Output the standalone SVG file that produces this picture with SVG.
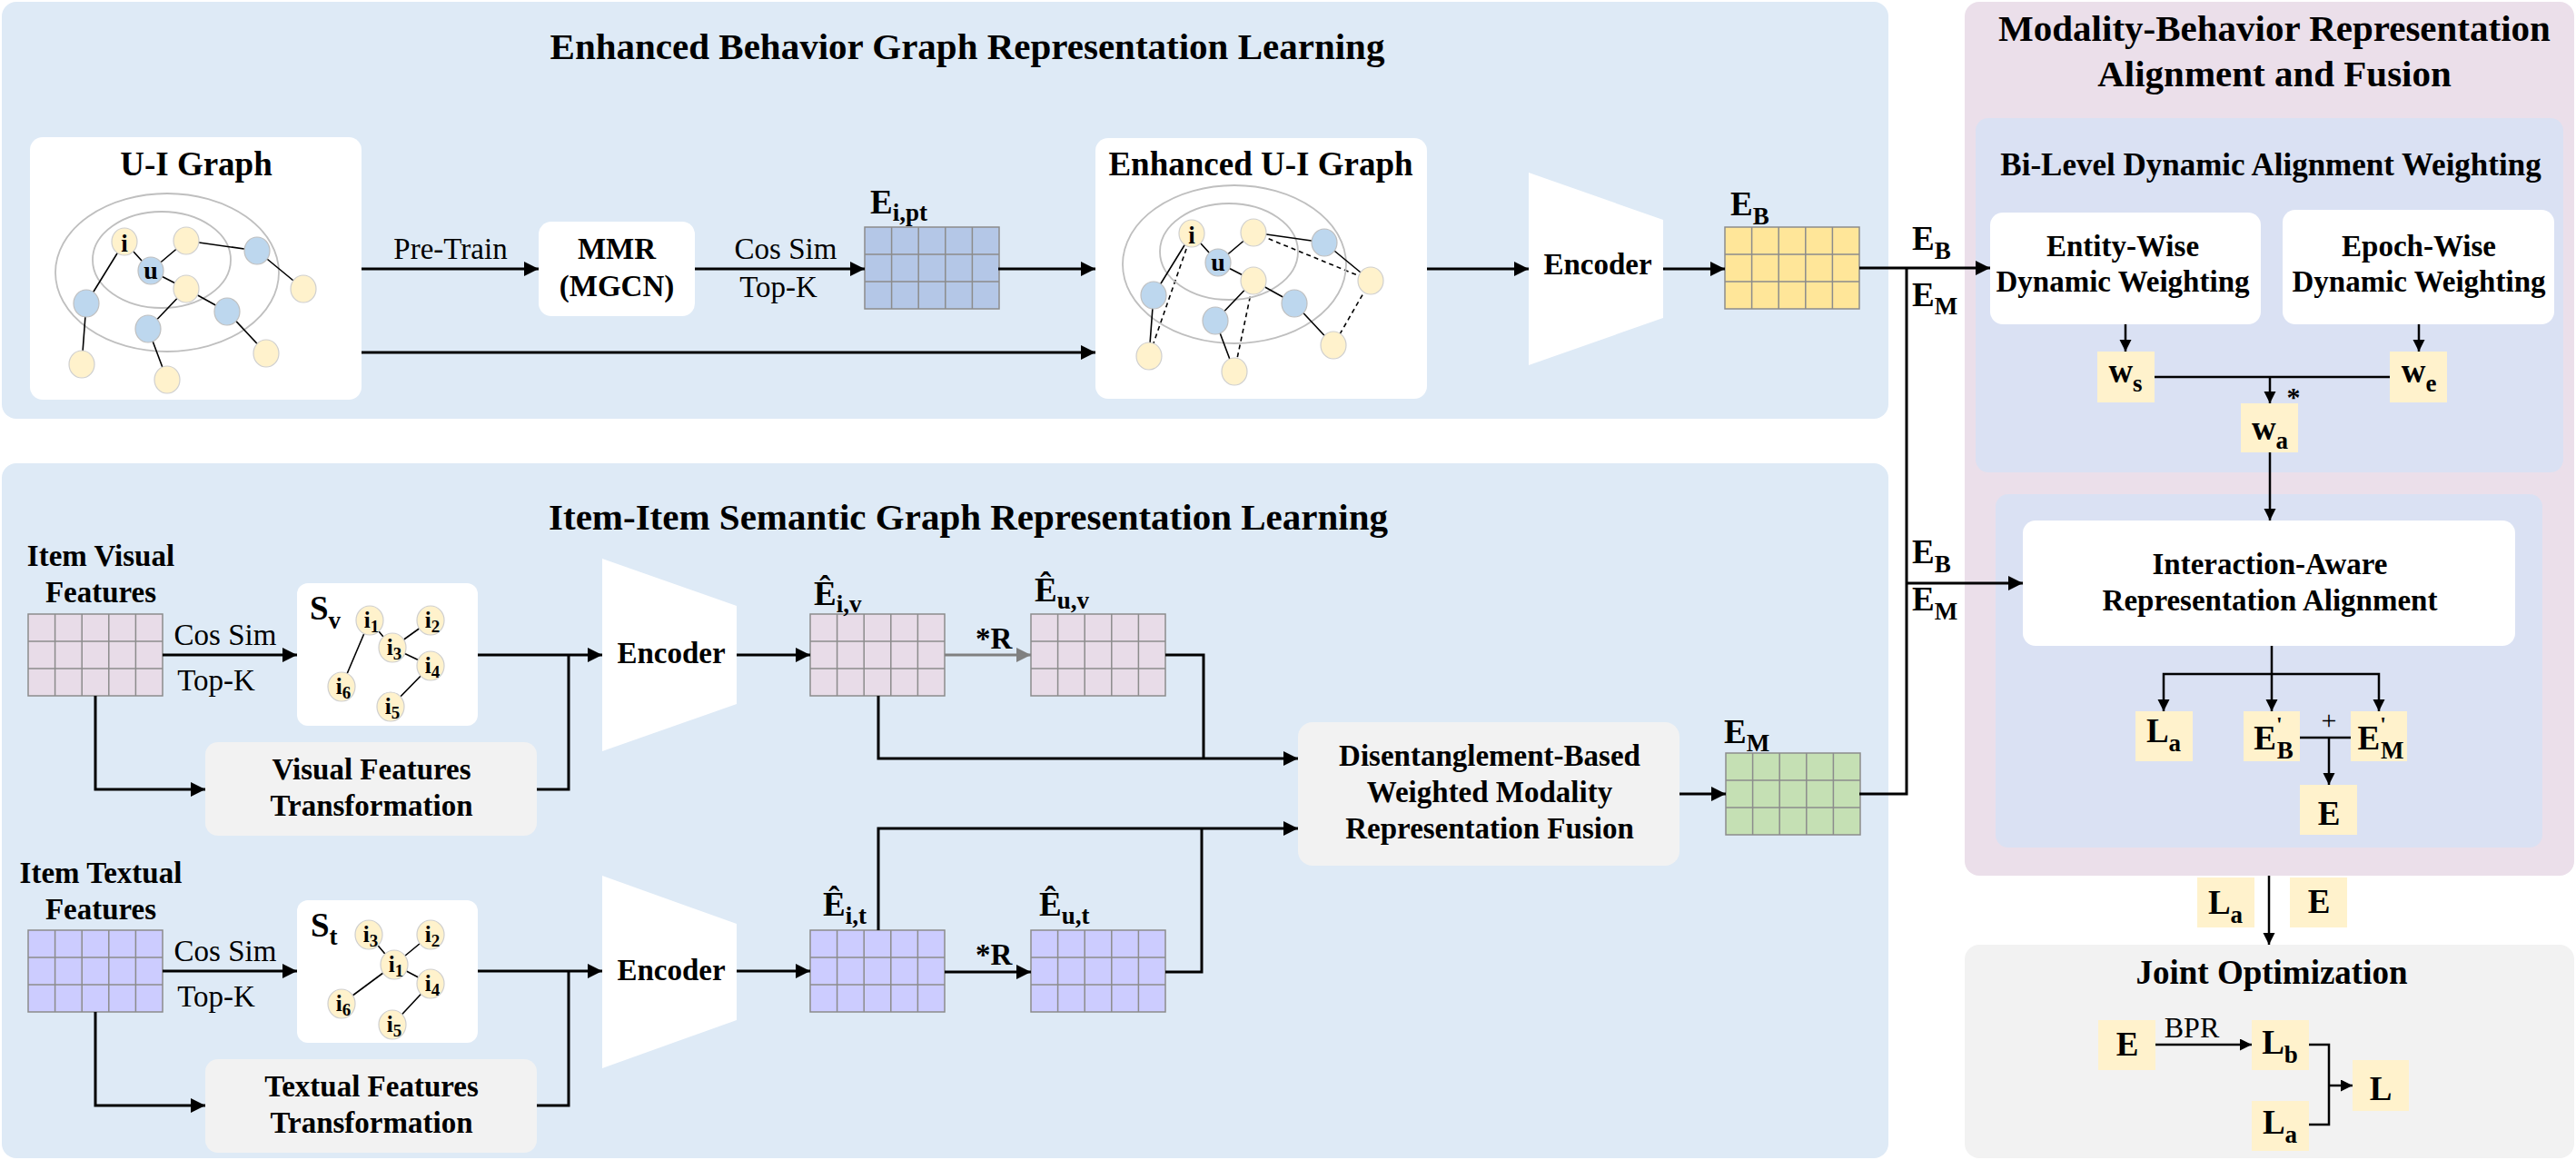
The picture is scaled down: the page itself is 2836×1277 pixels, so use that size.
<svg xmlns="http://www.w3.org/2000/svg" xmlns:xlink="http://www.w3.org/1999/xlink" width="2836" height="1277" viewBox="0 0 2836 1277">
<style>
text { font-family: "Liberation Serif", "Times New Roman", serif; font-weight: bold; fill: #000; }
.c { text-anchor: middle; }
.r { font-weight: normal; }
.f33 { font-size: 33px; }
.f35 { font-size: 35px; }
.f37 { font-size: 37px; }
.f41 { font-size: 41px; }
.sub { font-size: 27px; }
.nl { font-size: 25px; }
.ns { font-size: 19px; }
.ln { fill: none; stroke: #000; stroke-width: 3; }
.ln2 { fill: none; stroke: #000; stroke-width: 2.5; }
.lg { fill: none; stroke: #808080; stroke-width: 3; }
.edge { fill: none; stroke: #000; stroke-width: 1.6; }
.dash { stroke-dasharray: 5 4; }
.ring { fill: none; stroke: #bfbfbf; stroke-width: 1.8; }
.ny { fill: #FFF2CC; stroke: #cfcfcf; stroke-width: 1.2; }
.nb { fill: #BDD7EE; stroke: #bfbfbf; stroke-width: 1.2; }
.wbox { fill: #FFFFFF; }
.gbox { fill: #F2F2F2; }
.ybox { fill: #FFF2CC; }
.grid { fill: none; stroke: #8c8c8c; stroke-width: 1.5; }
</style>
<defs>
<marker id="ah" markerUnits="userSpaceOnUse" markerWidth="17" markerHeight="17" refX="16" refY="8" orient="auto"><path d="M0,0 L16,8 L0,16 z" fill="#000"/></marker>
<marker id="as" markerUnits="userSpaceOnUse" markerWidth="14" markerHeight="14" refX="13" refY="6.5" orient="auto"><path d="M0,0 L13,6.5 L0,13 z" fill="#000"/></marker>
<marker id="ag" markerUnits="userSpaceOnUse" markerWidth="17" markerHeight="17" refX="16" refY="8" orient="auto"><path d="M0,0 L16,8 L0,16 z" fill="#808080"/></marker>
<path id="grid" class="grid" d="M0,0h148v90h-148z M29.6,0v90 M59.2,0v90 M88.8,0v90 M118.4,0v90 M0,30h148 M0,60h148"/>
<g id="uig">
  <ellipse class="ring" cx="184" cy="300" rx="123" ry="87"/>
  <ellipse class="ring" cx="178" cy="286" rx="76" ry="53"/>
  <path class="edge" d="M137,266L166,298 M166,298L205,265 M205,265L283,276 M283,276L334,318 M166,298L205,318 M205,318L250,343 M205,318L163,362 M250,343L293,389 M137,266L95,334 M95,334L90,401 M163,362L184,418"/>
  <ellipse class="ny" cx="137" cy="266" rx="14" ry="15"/>
  <ellipse class="ny" cx="205" cy="265" rx="14" ry="15"/>
  <ellipse class="nb" cx="283" cy="276" rx="14" ry="15"/>
  <ellipse class="nb" cx="166" cy="298" rx="14" ry="15"/>
  <ellipse class="ny" cx="205" cy="318" rx="14" ry="15"/>
  <ellipse class="ny" cx="334" cy="318" rx="14" ry="15"/>
  <ellipse class="nb" cx="95" cy="334" rx="14" ry="15"/>
  <ellipse class="nb" cx="250" cy="343" rx="14" ry="15"/>
  <ellipse class="nb" cx="163" cy="362" rx="14" ry="15"/>
  <ellipse class="ny" cx="293" cy="389" rx="14" ry="15"/>
  <ellipse class="ny" cx="90" cy="401" rx="14" ry="15"/>
  <ellipse class="ny" cx="184" cy="418" rx="14" ry="15"/>
</g>
</defs>

<!-- Panels -->
<g id="panel-behavior">
  <rect x="2" y="2" width="2077" height="459" rx="16" fill="#DEEAF6"/>
  <text class="c f41" x="1065" y="65">Enhanced Behavior Graph Representation Learning</text>
</g>
<g id="panel-semantic">
  <rect x="2" y="510" width="2077" height="765" rx="16" fill="#DEEAF6"/>
  <text class="c f41" x="1066" y="583">Item-Item Semantic Graph Representation Learning</text>
</g>
<g id="panel-alignment">
  <rect x="2163" y="2" width="671" height="962" rx="16" fill="#EBDFEA"/>
  <text class="c f41" x="2504" y="45">Modality-Behavior Representation</text>
  <text class="c f41" x="2504" y="95">Alignment and Fusion</text>
</g>
<g id="panel-bilevel">
  <rect x="2175" y="130" width="647" height="390" rx="14" fill="#DAE1F3"/>
  <text class="c f35" x="2500" y="193">Bi-Level Dynamic Alignment Weighting</text>
</g>
<g id="panel-interaction">
  <rect x="2197" y="544" width="602" height="389" rx="14" fill="#DAE1F3"/>
</g>
<g id="panel-joint">
  <rect x="2163" y="1040" width="671" height="235" rx="16" fill="#F2F2F2"/>
  <text class="c f37" x="2501" y="1083">Joint Optimization</text>
</g>

<!-- Panel 1 nodes -->
<g id="ui-graph">
  <rect class="wbox" x="33" y="151" width="365" height="289" rx="14"/>
  <text class="c f37" x="216" y="193">U-I Graph</text>
  <use xlink:href="#uig"/>
  <text class="c" font-size="27" x="137" y="277">i</text>
  <text class="c" font-size="28" x="166" y="307">u</text>
</g>
<g id="mmr">
  <rect class="wbox" x="593" y="244" width="172" height="104" rx="14"/>
  <text class="c f33" x="679" y="285">MMR</text>
  <text class="c f33" x="679" y="326">(MGCN)</text>
</g>
<g id="e-ipt">
  <rect x="952" y="250" width="148" height="90" fill="#B4C7E7"/>
  <use xlink:href="#grid" x="952" y="250"/>
  <text class="f37" x="958" y="235">E<tspan class="sub" dy="8">i,pt</tspan></text>
</g>
<g id="enhanced-graph">
  <rect class="wbox" x="1206" y="152" width="365" height="287" rx="14"/>
  <text class="c f37" x="1388" y="193">Enhanced U-I Graph</text>
  <g transform="translate(1175,-9)">
    <path class="edge dash" d="M137,266L90,401 M205,265L334,318 M205,318L184,418 M334,318L293,389"/>
    <use xlink:href="#uig"/>
  </g>
  <text class="c" font-size="27" x="1312" y="268">i</text>
  <text class="c" font-size="28" x="1341" y="298">u</text>
</g>
<g id="encoder-b">
  <polygon points="1683,190 1831,242 1831,350 1683,402" fill="#fff"/>
  <text class="c f33" x="1759" y="302">Encoder</text>
</g>
<g id="e-b">
  <rect x="1899" y="250" width="148" height="90" fill="#FFE699"/>
  <use xlink:href="#grid" x="1899" y="250"/>
  <text class="f37" x="1905" y="237">E<tspan class="sub" dy="10">B</tspan></text>
</g>

<!-- Panel 2 nodes: visual -->
<g id="visual-features">
  <text class="c f33" x="111" y="623">Item Visual</text>
  <text class="c f33" x="111" y="663">Features</text>
  <rect x="31" y="676" width="148" height="90" fill="#E8DCE8"/>
  <use xlink:href="#grid" x="31" y="676"/>
</g>
<g id="s-v">
  <rect class="wbox" x="327" y="642" width="199" height="157" rx="12"/>
  <text class="f37" x="341" y="682">S<tspan class="sub" dy="10">v</tspan></text>
  <path class="edge" d="M407,683L432,713 M432,713L474,683 M432,713L474,733 M407,683L376,756 M474,733L430,778"/>
  <ellipse class="ny" cx="407" cy="683" rx="15" ry="16"/>
  <ellipse class="ny" cx="474" cy="683" rx="15" ry="16"/>
  <ellipse class="ny" cx="432" cy="713" rx="15" ry="16"/>
  <ellipse class="ny" cx="474" cy="733" rx="15" ry="16"/>
  <ellipse class="ny" cx="376" cy="756" rx="15" ry="16"/>
  <ellipse class="ny" cx="430" cy="778" rx="15" ry="16"/>
  <text class="c nl" x="409" y="691">i<tspan class="ns" dy="5">1</tspan></text>
  <text class="c nl" x="476" y="691">i<tspan class="ns" dy="5">2</tspan></text>
  <text class="c nl" x="434" y="721">i<tspan class="ns" dy="5">3</tspan></text>
  <text class="c nl" x="476" y="741">i<tspan class="ns" dy="5">4</tspan></text>
  <text class="c nl" x="378" y="764">i<tspan class="ns" dy="5">6</tspan></text>
  <text class="c nl" x="432" y="786">i<tspan class="ns" dy="5">5</tspan></text>
</g>
<g id="visual-transform">
  <rect class="gbox" x="226" y="817" width="365" height="103" rx="14"/>
  <text class="c f33" x="409" y="858">Visual Features</text>
  <text class="c f33" x="409" y="898">Transformation</text>
</g>
<g id="encoder-v">
  <polygon points="663,615 811,667 811,775 663,827" fill="#fff"/>
  <text class="c f33" x="739" y="730">Encoder</text>
</g>
<g id="e-iv">
  <rect x="892" y="676" width="148" height="90" fill="#E8DCE8"/>
  <use xlink:href="#grid" x="892" y="676"/>
  <text class="f37" x="896" y="666">Ê<tspan class="sub" dy="8">i,v</tspan></text>
</g>
<g id="e-uv">
  <rect x="1135" y="676" width="148" height="90" fill="#E8DCE8"/>
  <use xlink:href="#grid" x="1135" y="676"/>
  <text class="f37" x="1139" y="662">Ê<tspan class="sub" dy="8">u,v</tspan></text>
</g>

<!-- Panel 2 nodes: textual -->
<g id="textual-features">
  <text class="c f33" x="111" y="972">Item Textual</text>
  <text class="c f33" x="111" y="1012">Features</text>
  <rect x="31" y="1024" width="148" height="90" fill="#CCCCFF"/>
  <use xlink:href="#grid" x="31" y="1024"/>
</g>
<g id="s-t">
  <rect class="wbox" x="327" y="991" width="199" height="157" rx="12"/>
  <text class="f37" x="342" y="1031">S<tspan class="sub" dy="9">t</tspan></text>
  <path class="edge" d="M406,1029L434,1062 M474,1029L434,1062 M434,1062L474,1083 M434,1062L376,1105 M474,1083L432,1128"/>
  <ellipse class="ny" cx="406" cy="1029" rx="15" ry="16"/>
  <ellipse class="ny" cx="474" cy="1029" rx="15" ry="16"/>
  <ellipse class="ny" cx="434" cy="1062" rx="15" ry="16"/>
  <ellipse class="ny" cx="474" cy="1083" rx="15" ry="16"/>
  <ellipse class="ny" cx="376" cy="1105" rx="15" ry="16"/>
  <ellipse class="ny" cx="432" cy="1128" rx="15" ry="16"/>
  <text class="c nl" x="408" y="1037">i<tspan class="ns" dy="5">3</tspan></text>
  <text class="c nl" x="476" y="1037">i<tspan class="ns" dy="5">2</tspan></text>
  <text class="c nl" x="436" y="1070">i<tspan class="ns" dy="5">1</tspan></text>
  <text class="c nl" x="476" y="1091">i<tspan class="ns" dy="5">4</tspan></text>
  <text class="c nl" x="378" y="1113">i<tspan class="ns" dy="5">6</tspan></text>
  <text class="c nl" x="434" y="1136">i<tspan class="ns" dy="5">5</tspan></text>
</g>
<g id="textual-transform">
  <rect class="gbox" x="226" y="1166" width="365" height="103" rx="14"/>
  <text class="c f33" x="409" y="1207">Textual Features</text>
  <text class="c f33" x="409" y="1247">Transformation</text>
</g>
<g id="encoder-t">
  <polygon points="663,964 811,1017 811,1123 663,1176" fill="#fff"/>
  <text class="c f33" x="739" y="1079">Encoder</text>
</g>
<g id="e-it">
  <rect x="892" y="1024" width="148" height="90" fill="#CCCCFF"/>
  <use xlink:href="#grid" x="892" y="1024"/>
  <text class="f37" x="906" y="1008">Ê<tspan class="sub" dy="9">i,t</tspan></text>
</g>
<g id="e-ut">
  <rect x="1135" y="1024" width="148" height="90" fill="#CCCCFF"/>
  <use xlink:href="#grid" x="1135" y="1024"/>
  <text class="f37" x="1144" y="1008">Ê<tspan class="sub" dy="9">u,t</tspan></text>
</g>
<g id="fusion">
  <rect class="gbox" x="1429" y="795" width="420" height="158" rx="16"/>
  <text class="c f33" x="1640" y="843">Disentanglement-Based</text>
  <text class="c f33" x="1640" y="883">Weighted Modality</text>
  <text class="c f33" x="1640" y="923">Representation Fusion</text>
</g>
<g id="e-m">
  <rect x="1900" y="829" width="148" height="90" fill="#C5E0B4"/>
  <use xlink:href="#grid" x="1900" y="829"/>
  <text class="f37" x="1898" y="818">E<tspan class="sub" dy="9">M</tspan></text>
</g>

<!-- Right side nodes -->
<g id="entity-wise">
  <rect class="wbox" x="2191" y="234" width="298" height="123" rx="14"/>
  <text class="c f33" x="2337" y="282">Entity-Wise</text>
  <text class="c f33" x="2337" y="321">Dynamic Weighting</text>
</g>
<g id="epoch-wise">
  <rect class="wbox" x="2513" y="231" width="299" height="126" rx="14"/>
  <text class="c f33" x="2663" y="282">Epoch-Wise</text>
  <text class="c f33" x="2663" y="321">Dynamic Weighting</text>
</g>
<g id="w-s">
  <rect class="ybox" x="2309" y="387" width="63" height="56"/>
  <text class="c f37" x="2340" y="421">w<tspan class="sub" dy="10">s</tspan></text>
</g>
<g id="w-e">
  <rect class="ybox" x="2631" y="387" width="63" height="56"/>
  <text class="c f37" x="2663" y="421">w<tspan class="sub" dy="10">e</tspan></text>
</g>
<g id="w-a">
  <rect class="ybox" x="2467" y="444" width="63" height="54"/>
  <text class="c f37" x="2499" y="484">w<tspan class="sub" dy="10">a</tspan></text>
</g>
<g id="interaction">
  <rect class="wbox" x="2227" y="573" width="542" height="138" rx="14"/>
  <text class="c f33" x="2499" y="632">Interaction-Aware</text>
  <text class="c f33" x="2499" y="672">Representation Alignment</text>
</g>
<g id="l-a-1">
  <rect class="ybox" x="2351" y="783" width="63" height="55"/>
  <text class="c f37" x="2382" y="817">L<tspan class="sub" dy="10">a</tspan></text>
</g>
<g id="e-b-prime">
  <rect class="ybox" x="2470" y="783" width="62" height="55"/>
  <text class="c f37" x="2503" y="825">E<tspan font-size="24" dy="-20">'</tspan><tspan class="sub" dx="-6" dy="30">B</tspan></text>
</g>
<g id="e-m-prime">
  <rect class="ybox" x="2588" y="783" width="62" height="55"/>
  <text class="c f37" x="2621" y="825">E<tspan font-size="24" dy="-20">'</tspan><tspan class="sub" dx="-6" dy="30">M</tspan></text>
</g>
<g id="e-fused">
  <rect class="ybox" x="2532" y="864" width="63" height="55"/>
  <text class="c f37" x="2564" y="908">E</text>
</g>
<g id="l-a-2">
  <rect class="ybox" x="2419" y="966" width="63" height="55"/>
  <text class="c f37" x="2450" y="1006">L<tspan class="sub" dy="10">a</tspan></text>
</g>
<g id="e-out">
  <rect class="ybox" x="2521" y="966" width="63" height="55"/>
  <text class="c f37" x="2553" y="1005">E</text>
</g>
<g id="e-joint">
  <rect class="ybox" x="2310" y="1123" width="63" height="55"/>
  <text class="c f37" x="2342" y="1162">E</text>
</g>
<g id="l-b">
  <rect class="ybox" x="2479" y="1123" width="63" height="55"/>
  <text class="c f37" x="2510" y="1160">L<tspan class="sub" dy="10">b</tspan></text>
</g>
<g id="l-a-3">
  <rect class="ybox" x="2479" y="1212" width="63" height="55"/>
  <text class="c f37" x="2510" y="1248">L<tspan class="sub" dy="10">a</tspan></text>
</g>
<g id="l-total">
  <rect class="ybox" x="2590" y="1167" width="62" height="56"/>
  <text class="c f37" x="2621" y="1211">L</text>
</g>

<!-- Connectors -->
<g id="connectors">
  <path class="ln" marker-end="url(#ah)" d="M398,296 H593"/>
  <path class="ln" marker-end="url(#ah)" d="M765,296 H952"/>
  <path class="ln" marker-end="url(#ah)" d="M1099,296 H1206"/>
  <path class="ln" marker-end="url(#ah)" d="M398,388 H1206"/>
  <path class="ln" marker-end="url(#ah)" d="M1571,296 H1683"/>
  <path class="ln" marker-end="url(#ah)" d="M1831,296 H1899"/>
  <path class="ln" marker-end="url(#ah)" d="M2047,295 H2191"/>
  <path class="ln" d="M2099,295 V874 H2047"/>
  <path class="ln" marker-end="url(#ah)" d="M2099,642 H2227"/>

  <path class="ln2" marker-end="url(#as)" d="M2340,357 V387"/>
  <path class="ln2" marker-end="url(#as)" d="M2663,357 V387"/>
  <path class="ln2" d="M2372,415 H2631"/>
  <path class="ln2" marker-end="url(#as)" d="M2499,415 V444"/>
  <path class="ln2" marker-end="url(#as)" d="M2499,498 V573"/>
  <path class="ln2" marker-end="url(#as)" d="M2501,711 V783"/>
  <path class="ln2" marker-end="url(#as)" d="M2501,742 H2382 V783"/>
  <path class="ln2" marker-end="url(#as)" d="M2501,742 H2619 V783"/>
  <path class="ln2" d="M2532,812 H2588"/>
  <path class="ln2" marker-end="url(#as)" d="M2564,812 V864"/>
  <path class="ln2" marker-end="url(#as)" d="M2498,964 V1040"/>
  <path class="ln2" marker-end="url(#as)" d="M2373,1150 H2479"/>
  <path class="ln2" d="M2542,1150 H2564 V1238 H2542"/>
  <path class="ln2" marker-end="url(#as)" d="M2564,1195 H2590"/>

  <path class="ln" marker-end="url(#ah)" d="M179,721 H327"/>
  <path class="ln" marker-end="url(#ah)" d="M526,721 H663"/>
  <path class="ln" marker-end="url(#ah)" d="M105,766 V869 H226"/>
  <path class="ln" d="M591,869 H626 V721"/>
  <path class="ln" marker-end="url(#ah)" d="M811,721 H892"/>
  <path class="lg" marker-end="url(#ag)" d="M1040,721 H1135"/>
  <path class="ln" d="M1283,721 H1325 V835"/>
  <path class="ln" marker-end="url(#ah)" d="M967,766 V835 H1429"/>
  <path class="ln" marker-end="url(#ah)" d="M179,1069 H327"/>
  <path class="ln" marker-end="url(#ah)" d="M526,1069 H663"/>
  <path class="ln" marker-end="url(#ah)" d="M105,1114 V1217 H226"/>
  <path class="ln" d="M591,1217 H626 V1069"/>
  <path class="ln" marker-end="url(#ah)" d="M811,1069 H892"/>
  <path class="ln" marker-end="url(#ah)" d="M1040,1070 H1135"/>
  <path class="ln" d="M1283,1070 H1323 V912"/>
  <path class="ln" marker-end="url(#ah)" d="M967,1024 V912 H1429"/>
  <path class="ln" marker-end="url(#ah)" d="M1849,874 H1900"/>

  <text class="c r f33" x="496" y="285">Pre-Train</text>
  <text class="c r f33" x="865" y="285">Cos Sim</text>
  <text class="c r f33" x="857" y="327">Top-K</text>
  <text class="c r f33" x="248" y="710">Cos Sim</text>
  <text class="c r f33" x="238" y="760">Top-K</text>
  <text class="c r f33" x="248" y="1058">Cos Sim</text>
  <text class="c r f33" x="238" y="1108">Top-K</text>
  <text class="f33" x="1074" y="714">*R</text>
  <text class="f33" x="1074" y="1062">*R</text>
  <text class="f37" x="2105" y="275">E<tspan class="sub" dy="10">B</tspan></text>
  <text class="f37" x="2105" y="337">E<tspan class="sub" dy="9">M</tspan></text>
  <text class="f37" x="2105" y="620">E<tspan class="sub" dy="10">B</tspan></text>
  <text class="f37" x="2105" y="672">E<tspan class="sub" dy="10">M</tspan></text>
  <text class="c" font-size="30" x="2525" y="447">*</text>
  <text class="c r" font-size="30" x="2564" y="803">+</text>
  <text class="c r" font-size="32" x="2413" y="1142">BPR</text>
</g>
</svg>
